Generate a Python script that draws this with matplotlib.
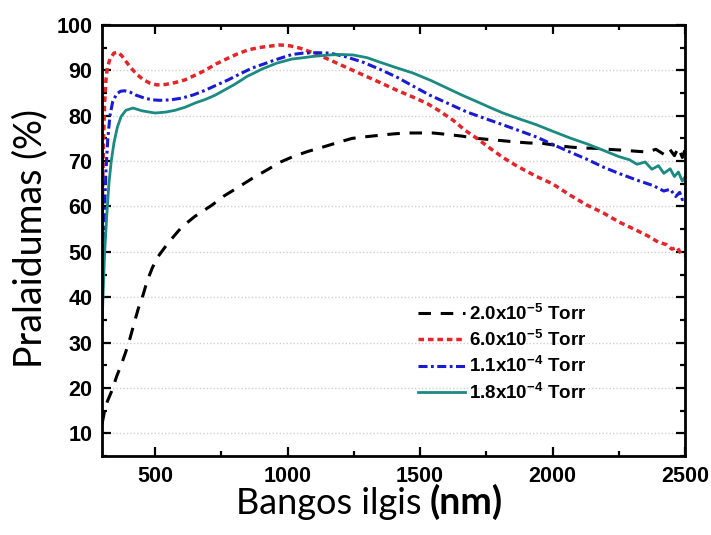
import matplotlib
matplotlib.use('Agg')
import matplotlib.pyplot as plt
from matplotlib.ticker import MultipleLocator

plt.rcParams['font.family'] = ['Liberation Sans', 'DejaVu Sans']
plt.rcParams['mathtext.fontset'] = 'custom'
plt.rcParams['mathtext.rm'] = 'Liberation Sans:bold'
plt.rcParams['mathtext.bf'] = 'Liberation Sans:bold'
plt.rcParams['lines.scale_dashes'] = False

# 2.0x10^-5 Torr
x_a = [300, 310, 320, 338, 355, 375, 390, 406, 420, 437, 455, 470, 490, 512, 550, 600, 650, 715, 760,
       813, 870, 927, 970, 1017, 1075, 1134, 1190, 1243, 1300, 1349, 1400, 1451, 1500, 1549, 1600, 1659,
       1700, 1753, 1810, 1866, 1910, 1964, 2010, 2066, 2110, 2168, 2210, 2266, 2310, 2357, 2390, 2420,
       2440, 2460, 2475, 2490, 2500]
y_a = [12, 15, 17, 19.5, 22.5, 25.5, 28, 31, 34, 37.5, 40.5, 43.5, 46.5, 49, 52, 55.4, 57.8, 60.3, 62.3,
       64.2, 66.3, 68.2, 69.7, 70.9, 72.1, 73.1, 74.1, 75.0, 75.4, 75.7, 76.0, 76.2, 76.2, 76.2, 75.9, 75.5,
       75.1, 74.8, 74.5, 74.2, 74.0, 73.9, 73.5, 73.1, 72.9, 72.8, 72.6, 72.4, 72.2, 72.0, 72.6, 71.5,
       72.8, 71.2, 73.0, 70.8, 72.5]

# 6.0x10^-5 Torr
x_b = [300, 303, 306, 310, 315, 320, 330, 345, 360, 375, 390, 410, 430, 455, 480, 507, 540, 575, 613,
       650, 689, 730, 776, 810, 851, 890, 927, 972, 1010, 1047, 1100, 1160, 1220, 1285, 1350, 1413, 1470,
       1527, 1575, 1625, 1670, 1715, 1765, 1813, 1866, 1940, 2000, 2066, 2130, 2191, 2250, 2319, 2360,
       2400, 2430, 2450, 2470, 2485, 2500]
y_b = [56, 66, 75, 83, 88, 90.5, 92.5, 93.8, 94.0, 93.2, 92, 90.5, 89.2, 88, 87.2, 86.8, 86.9, 87.3, 87.9,
       88.9, 90, 91.4, 92.7, 93.6, 94.5, 95, 95.3, 95.6, 95.4, 94.9, 93.8, 92.3, 90.7, 89, 87.3, 85.6, 84.2,
       82.7, 81, 79, 76.8, 75.0, 72.8, 70.8, 68.9, 66.6, 65, 62.5, 60.3, 58.6, 56.6, 54.7, 53.5,
       52.1, 51.6, 50.6, 51.0, 49.6, 49.3]

# 1.1x10^-4 Torr
x_c = [300, 305, 310, 315, 322, 330, 340, 355, 370, 385, 406, 430, 460, 490, 519, 560, 602, 645, 689,
       730, 776, 820, 866, 910, 953, 1017, 1059, 1110, 1160, 1220, 1285, 1350, 1413, 1475, 1538, 1610,
       1678, 1750, 1813, 1875, 1940, 2000, 2066, 2130, 2191, 2250, 2319, 2380, 2420, 2444, 2465, 2480,
       2490, 2500]
y_c = [40, 50, 60, 68, 75, 80, 83, 84.8, 85.4, 85.5, 85.2, 84.5, 83.9, 83.5, 83.4, 83.5, 83.9, 84.6, 85.6,
       86.7, 87.9, 89.2, 90.5, 91.4, 92.3, 93.5, 93.8, 93.9, 93.8, 93, 91.8, 90.2, 88.5, 86.5, 84.5, 82.6,
       80.8, 79.3, 78, 76.7, 75.3, 73.7, 72, 70.4, 68.7, 67.3, 65.8, 64.6, 63.4, 63.8, 62.2, 63.1,
       61.5, 62.0]

# 1.8x10^-4 Torr
x_d = [300, 305, 310, 318, 326, 335, 345, 358, 372, 390, 417, 450, 480, 500, 540, 576, 615, 651, 690,
       726, 760, 800, 830, 845, 870, 904, 960, 1017, 1047, 1100, 1160, 1200, 1247, 1300, 1349, 1410, 1474,
       1540, 1602, 1660, 1715, 1765, 1813, 1875, 1940, 2000, 2066, 2130, 2191, 2250, 2290, 2319, 2350,
       2375, 2400, 2420, 2444, 2460, 2475, 2490, 2500]
y_d = [34, 42, 50, 58, 65, 70, 74, 77.5, 79.8, 81.2, 81.7, 81.1, 80.8, 80.6, 80.8, 81.2, 81.9, 82.8, 83.6,
       84.5, 85.6, 86.9, 88.0, 88.6, 89.3, 90.3, 91.6, 92.5, 92.7, 93.1, 93.4, 93.5, 93.4, 92.8, 91.8, 90.6, 89.4,
       87.8, 86.1, 84.5, 83.1, 81.8, 80.6, 79.3, 78, 76.6, 75.1, 73.8, 72.4, 71, 70.3, 69.3, 69.8,
       68.2, 69, 67.3, 68.3, 66.6, 67.6, 65.6, 66.5]

labels = [r'2.0x10$^{\mathbf{-5}}$ Torr', r'6.0x10$^{\mathbf{-5}}$ Torr',
          r'1.1x10$^{\mathbf{-4}}$ Torr', r'1.8x10$^{\mathbf{-4}}$ Torr']

fig = plt.figure(figsize=(7.11, 5.35), dpi=100)
ax = fig.add_axes([102 / 711, 1 - 456 / 535, 583 / 711, 431 / 535])

ax.plot(x_a, y_a, color='black', lw=2.2, dashes=(9, 7), label=labels[0])
ax.plot(x_b, y_b, color='#e3262a', lw=2.5, dashes=(4, 2.8), label=labels[1])
ax.plot(x_c, y_c, color='#1a1ad0', lw=2.2, dashes=(6.5, 2.5, 2, 2.5), label=labels[2])
ax.plot(x_d, y_d, color='#1b8a82', lw=2.0, label=labels[3])

ax.set_xlim(300, 2500)
ax.set_ylim(5, 100)
ax.xaxis.set_major_locator(MultipleLocator(500))
ax.xaxis.set_minor_locator(MultipleLocator(250))
ax.set_yticks(range(10, 101, 10))
ax.yaxis.set_minor_locator(MultipleLocator(5))
ax.set_xticks([500, 1000, 1500, 2000, 2500])

for y in range(10, 100, 10):
    ax.axhline(y, color='#d0d0d0', lw=1.0, ls=(0, (1, 1.5)), zorder=0)

for s in ax.spines.values():
    s.set_linewidth(2.0)
ax.tick_params(which='both', direction='in', top=True, right=True, width=1.6)
ax.tick_params(which='major', length=6.5, labelsize=15.5, pad=7)
ax.tick_params(which='minor', length=3.8)
for t in ax.get_xticklabels() + ax.get_yticklabels():
    t.set_fontweight('bold')

leg = ax.legend(loc='upper left', bbox_to_anchor=(0.52, 0.386), frameon=False,
                prop={'weight': 'bold', 'size': 13.5}, handlelength=2.5,
                handletextpad=0.2, labelspacing=0.3, borderpad=0.2)

fig.text(422 / 711, 21 / 535, 'Bangos ilgis', family='Lato', fontsize=26,
         ha='right', va='baseline')
fig.text(430 / 711, 21 / 535, '(nm)', family='Lato', fontsize=27, fontweight='bold',
         ha='left', va='baseline')
fig.text(30 / 711, 1 - 238 / 535, 'Pralaidumas (%)', family='Lato', fontsize=27,
         rotation=90, ha='center', va='center')

fig.savefig('out.png', dpi=100, facecolor='white')
